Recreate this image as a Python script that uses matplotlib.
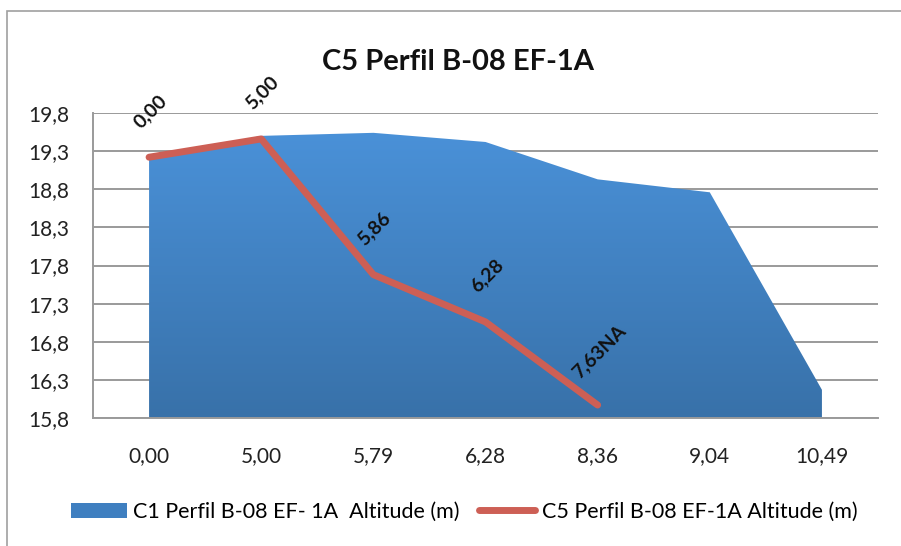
import matplotlib
matplotlib.use("Agg")
import matplotlib.pyplot as plt
from matplotlib.patches import Patch, Rectangle
from matplotlib.lines import Line2D
from matplotlib.colors import LinearSegmentedColormap
import numpy as np

# data
categories = ["0,00", "5,00", "5,79", "6,28", "8,36", "9,04", "10,49"]
c1_altitude = [19.21, 19.50, 19.54, 19.42, 18.93, 18.76, 16.17]
c5_altitude = [19.22, 19.46, 17.68, 17.06, 15.97]
c5_labels = ["0,00", "5,00", "5,86", "6,28", "7,63NA"]
yticks = [15.8, 16.3, 16.8, 17.3, 17.8, 18.3, 18.8, 19.3, 19.8]

title = "C5 Perfil B-08 EF-1A"
c1_name = "C1 Perfil B-08 EF- 1A  Altitude (m)"
c5_name = "C5 Perfil B-08 EF-1A Altitude (m)"

plt.rcParams["font.family"] = ["Lato", "DejaVu Sans"]

W, H = 901, 546
fig = plt.figure(figsize=(W / 100, H / 100), dpi=100)
ax = fig.add_axes([93 / W, 1 - 418 / H, (878 - 93) / W, (418 - 113) / H])

x = np.arange(len(categories))
ymin, ymax = 15.8, 19.8

# outer chart border (only left and top visible in the reference)
fig.add_artist(Rectangle((7 / W, -0.1), 1.2, 1 - 11 / H + 0.1, transform=fig.transFigure,
                         fill=False, edgecolor="#a0a0a0", lw=1.2))

# gridlines
for yv in yticks:
    ax.axhline(yv, color="#9a9a9a", lw=1.4, zorder=1)

# area series with vertical gradient
poly = ax.fill_between(x, ymin, c1_altitude, color="none", lw=0, zorder=2)
grad = LinearSegmentedColormap.from_list("g", ["#3871a9", "#4a91d8"])
img = ax.imshow(np.linspace(0, 1, 256).reshape(-1, 1), cmap=grad, aspect="auto",
                extent=[x[0], x[-1], ymin, max(c1_altitude)], origin="lower", zorder=2)
img.set_clip_path(poly.get_paths()[0], transform=ax.transData)

# line series
xl = x[:len(c5_altitude)]
ax.plot(xl, c5_altitude, color="#cd5f55", lw=5, solid_capstyle="round",
        solid_joinstyle="round", zorder=3, clip_on=False)

for xi, yi, lab in zip(xl, c5_altitude, c5_labels):
    ax.annotate(lab, (xi, yi), xytext=(1, 30 + 4 * len(lab)), textcoords="offset pixels",
                rotation=45, ha="center", va="center", fontsize=14, fontweight="bold",
                color="#111111", annotation_clip=False, zorder=4)

ax.set_xlim(-0.5, len(categories) - 0.5)
ax.set_ylim(ymin, ymax)
ax.set_xticks(x)
ax.set_xticklabels(categories)
ax.set_yticks(yticks)
ax.set_yticklabels([f"{v:.1f}".replace(".", ",") for v in yticks])
ax.tick_params(length=0, labelsize=15, colors="#222222")
ax.tick_params(axis="x", pad=20)
ax.tick_params(axis="y", pad=17)
for s in ["top", "right"]:
    ax.spines[s].set_visible(False)
for s in ["left", "bottom"]:
    ax.spines[s].set_color("#9a9a9a")
    ax.spines[s].set_linewidth(1.4)
ax.set_facecolor("none")

fig.text(458 / W, 1 - 62 / H, title, ha="center", va="center", fontsize=21,
         fontweight="bold", color="#111111")

handles = [Patch(facecolor="#3f7fc0", edgecolor="none"),
           Line2D([0], [0], color="#cd5f55", lw=5, solid_capstyle="round")]
fig.legend(handles, [c1_name, c5_name], loc="center", ncol=2,
           bbox_to_anchor=(464 / W, 1 - 512 / H), frameon=False, fontsize=15.5,
           handlelength=2.6, handletextpad=0.3, columnspacing=0.9, handleheight=0.7)

fig.savefig("out.png", dpi=100)
